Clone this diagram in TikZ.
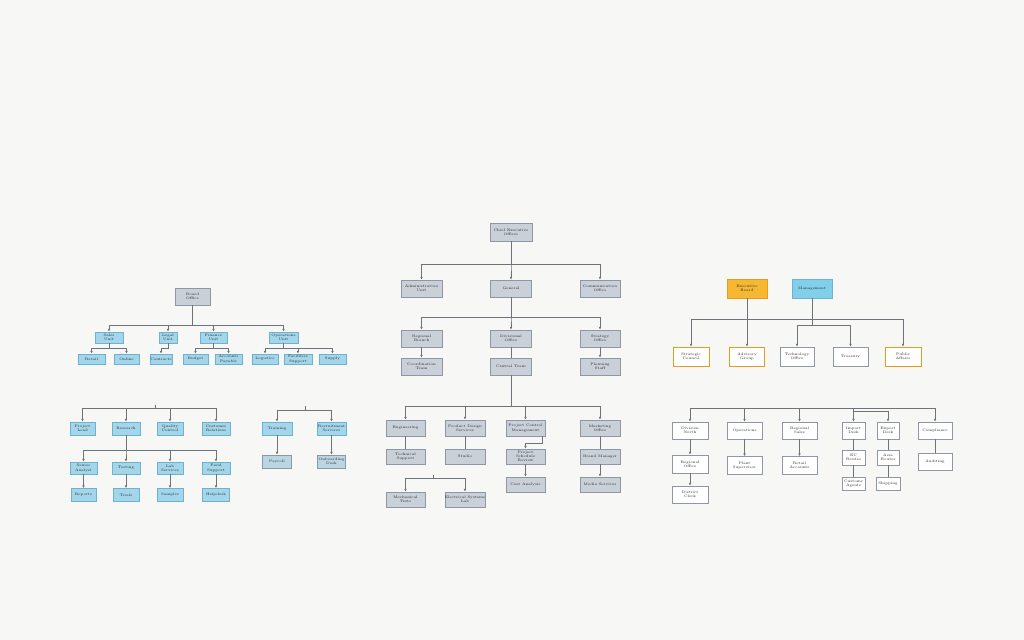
\documentclass[tikz,border=0pt]{standalone}
\usepackage{amsmath}
\usepackage{amssymb}
\usetikzlibrary{arrows.meta,shadows}
\definecolor{paper}{HTML}{F7F7F5}
\definecolor{bluebox}{HTML}{A3D6EA}
\definecolor{blueline}{HTML}{6DB2CF}
\definecolor{paleblue}{HTML}{BBD6E3}
\definecolor{greybox}{HTML}{C9D0D8}
\definecolor{greyline}{HTML}{8E97A2}
\definecolor{orangebox}{HTML}{F6B733}
\definecolor{orangeline}{HTML}{E39E1C}
\definecolor{skybox}{HTML}{82CFEA}
\definecolor{wireline}{HTML}{6E7379}

\begin{document}
\begin{tikzpicture}[x=0.25mm,y=-0.25mm,
    box/.style={draw, line width=0.4pt, inner sep=0pt, align=center, text=black!85,
        font=\fontsize{2.6}{3}\selectfont,
        drop shadow={opacity=0.12,shadow xshift=0.4pt,shadow yshift=-0.4pt}},
    bw/.style={minimum width=#1*0.25mm},
    bh/.style={minimum height=#1*0.25mm},
    bluen/.style={box, fill=bluebox, draw=blueline},
    paleblue/.style={box, fill=paleblue, draw=greyline},
    greyn/.style={box, fill=greybox, draw=greyline},
    orangen/.style={box, fill=orangebox, draw=orangeline},
    skyn/.style={box, fill=skybox, draw=blueline},
    whiteo/.style={box, fill=white, draw=orangeline},
    whiten/.style={box, fill=white, draw=greyline},
    link/.style={draw=wireline, line width=0.5pt},
    arr/.style={link, -{Latex[length=2pt,width=1.8pt]}}]

    \fill [paper] (0,0) rectangle (1024,640);
    \useasboundingbox (0,0) rectangle (1024,640);

    % left, upper
    \node [greyn, bw=35, bh=17] (ar) at (192.5,296.5) {Board\\Office};
    \node [bluen, bw=28, bh=11] (a1) at (109,337.5) {Sales\\Unit};
    \node [bluen, bw=18, bh=11] (a2) at (168,337.5) {Legal\\Unit};
    \node [bluen, bw=27, bh=11] (a3) at (213.5,337.5) {Finance\\Unit};
    \node [bluen, bw=29, bh=11] (a4) at (283.5,337.5) {Operations\\Unit};
    \node [bluen, bw=27, bh=10] (a11) at (91.5,359) {Retail};
    \node [bluen, bw=25, bh=10] (a12) at (126.5,359) {Online};
    \node [bluen, bw=22, bh=10] (a21) at (161,359) {Contracts};
    \node [bluen, bw=25, bh=10] (a31) at (195.5,359) {Budget};
    \node [bluen, bw=27, bh=10] (a32) at (228.5,359) {Accounts\\Payable};
    \node [bluen, bw=26, bh=10] (a41) at (265,359) {Logistics};
    \node [bluen, bw=28, bh=10] (a42) at (298,359) {Facilities\\Support};
    \node [bluen, bw=27, bh=10] (a43) at (332.5,359) {Supply};
    \foreach \c in {a1,a2,a3,a4}
        \draw [arr] (ar.south) -- ++(0,20) -| (\c.north);
    \foreach \p/\c in {a1/a11,a1/a12,a2/a21,a3/a31,a3/a32,a4/a41,a4/a42,a4/a43}
        \draw [arr] (\p.south) -- ++(0,5) -| (\c.north);

    % left, lower
    \coordinate (bt) at (155,405);
    \node [bluen, bw=25, bh=13] (b1) at (82.5,428.5) {Project\\Lead};
    \node [bluen, bw=28, bh=13] (b2) at (126,428.5) {Research};
    \node [bluen, bw=26, bh=13] (b3) at (170,428.5) {Quality\\Control};
    \node [bluen, bw=28, bh=13] (b4) at (216,428.5) {Customer\\Relations};
    \node [bluen, bw=27, bh=12] (b21) at (83.5,468) {Senior\\Analyst};
    \node [bluen, bw=28, bh=12] (b22) at (126,468) {Testing};
    \node [bluen, bw=26, bh=12] (b23) at (170,468) {Lab\\Services};
    \node [bluen, bw=28, bh=12] (b24) at (216,468) {Field\\Support};
    \node [bluen, bw=25, bh=13] (b31) at (83.5,495) {Reports};
    \node [bluen, bw=26, bh=13] (b32) at (126,495) {Trials};
    \node [bluen, bw=26, bh=13] (b33) at (170,495) {Samples};
    \node [bluen, bw=27, bh=13] (b34) at (216,495) {Helpdesk};
    \foreach \c in {b1,b2,b3,b4}
        \draw [arr] (bt) -- ++(0,3) -| (\c.north);
    \foreach \c in {b21,b22,b23,b24}
        \draw [arr] (b2.south) -- ++(0,15) -| (\c.north);
    \draw [arr] (b21) -- (b31);
    \draw [arr] (b22) -- (b32);
    \draw [arr] (b23) -- (b33);
    \draw [arr] (b24) -- (b34);

    \coordinate (ct) at (305,406);
    \node [bluen, bw=30, bh=13] (c1) at (277,428.5) {Training};
    \node [bluen, bw=29, bh=13] (c2) at (331.5,428.5) {Recruitment\\Services};
    \node [paleblue, bw=29, bh=13] (c11) at (277,461.5) {Payroll};
    \node [paleblue, bw=28, bh=13] (c21) at (331.5,461.5) {Onboarding\\Desk};
    \foreach \c in {c1,c2}
        \draw [arr] (ct) -- ++(0,4) -| (\c.north);
    \draw [arr] (c1) -- (c11);
    \draw [arr] (c2) -- (c21);

    % middle
    \node [greyn, bw=42, bh=18] (d0) at (511,232) {Chief Executive\\Officer};
    \node [greyn, bw=41, bh=17] (d1) at (421.5,288.5) {Administration\\Unit};
    \node [greyn, bw=41, bh=17] (d2) at (511,288.5) {General};
    \node [greyn, bw=40, bh=17] (d3) at (600,288.5) {Communication\\Office};
    \node [greyn, bw=41, bh=17] (d21) at (421.5,338.5) {Regional\\Branch};
    \node [greyn, bw=41, bh=17] (d22) at (511,338.5) {Divisional\\Office};
    \node [greyn, bw=40, bh=17] (d23) at (600,338.5) {Strategy\\Office};
    \node [greyn, bw=41, bh=17] (d31) at (421.5,366.5) {Coordination\\Team};
    \node [greyn, bw=41, bh=17] (d32) at (511,366.5) {Central Team};
    \node [greyn, bw=40, bh=17] (d33) at (600,366.5) {Planning\\Staff};
    \foreach \c in {d1,d2,d3}
        \draw [arr] (d0.south) -- ++(0,23) -| (\c.north);
    \foreach \c in {d21,d22,d23}
        \draw [arr] (d2.south) -- ++(0,20) -| (\c.north);
    \draw [arr] (d21) -- (d31);
    \draw [link] (d22) -- (d32);
    \draw [arr] (d23) -- (d33);

    \node [greyn, bw=39, bh=16] (e1) at (405.5,428) {Engineering};
    \node [greyn, bw=40, bh=16] (e2) at (465,428) {Product Design\\Services};
    \node [greyn, bw=39, bh=16] (e3) at (525.5,428) {Project Control\\Management};
    \node [greyn, bw=40, bh=16] (e4) at (600,428) {Marketing\\Office};
    \node [greyn, bw=39, bh=15] (e11) at (405.5,456.5) {Technical\\Support};
    \node [greyn, bw=40, bh=15] (e12) at (465,456.5) {Studio};
    \node [greyn, bw=39, bh=15] (e13) at (525.5,456.5) {Project\\Schedule\\Review};
    \node [greyn, bw=40, bh=15] (e14) at (600,456.5) {Brand Manager};
    \node [greyn, bw=39, bh=15] (e23) at (525.5,484.5) {Cost Analysis};
    \node [greyn, bw=40, bh=15] (e24) at (600,484.5) {Media Services};
    \foreach \c in {e1,e2,e3,e4}
        \draw [arr] (d32.south) -- ++(0,31) -| (\c.north);
    \draw [link] (e1) -- (e11);
    \draw [link] (e2) -- (e12);
    \draw [arr] ([xshift=-0.75mm]e3.south east) -- ++(0,7) -| (e13.north);
    \draw [link] (e4) -- (e14);
    \draw [arr] (e13) -- (e23);
    \draw [arr] (e14) -- (e24);

    \coordinate (ft) at (433,475);
    \node [greyn, bw=39, bh=15] (f1) at (405.5,499.5) {Mechanical\\Tests};
    \node [greyn, bw=40, bh=15] (f2) at (465,499.5) {Electrical Systems\\Lab};
    \foreach \c in {f1,f2}
        \draw [arr] (ft) -- ++(0,3) -| (\c.north);

    % right
    \node [orangen, bw=40, bh=19] (g0) at (747,288.5) {Executive\\Board};
    \node [skyn, bw=40, bh=19] (g9) at (812,288.5) {Management};
    \node [whiteo, bw=36, bh=19] (h1) at (691,356.5) {Strategic\\Council};
    \node [whiteo, bw=35, bh=19] (h2) at (747,356.5) {Advisory\\Group};
    \node [whiten, bw=34, bh=19] (h3) at (797,356.5) {Technology\\Office};
    \node [whiten, bw=35, bh=19] (h4) at (850.5,356.5) {Treasury};
    \node [whiteo, bw=36, bh=19] (h5) at (903,356.5) {Public\\Affairs};
    \draw [arr] (g0.south) -- (h2.north);
    \foreach \c in {h1,h5}
        \draw [arr] (g9.south) -- ++(0,21) -| (\c.north);
    \foreach \c in {h3,h4}
        \draw [arr] (g9.south) -- ++(0,27) -| (\c.north);

    \coordinate (ib) at (812,408);
    \node [whiten, bw=36, bh=17] (i1) at (690,430.5) {Division\\North};
    \node [whiten, bw=35, bh=17] (i2) at (744.5,430.5) {Operations};
    \node [whiten, bw=35, bh=17] (i3) at (799.5,430.5) {Regional\\Sales};
    \node [whiten, bw=23, bh=17] (i4) at (853.5,430.5) {Import\\Desk};
    \node [whiten, bw=22, bh=17] (i5) at (888,430.5) {Export\\Desk};
    \node [whiten, bw=34, bh=17] (i6) at (935,430.5) {Compliance};
    \node [whiten, bw=36, bh=18] (i11) at (690,464) {Regional\\Office};
    \node [whiten, bw=35, bh=18] (i21) at (744.5,465.5) {Plant\\Supervisor};
    \node [whiten, bw=35, bh=18] (i31) at (799.5,465.5) {Retail\\Accounts};
    \node [whiten, bw=23, bh=15] (i41) at (853.5,457.5) {EU\\Routes};
    \node [whiten, bw=22, bh=15] (i51) at (888,457.5) {Asia\\Routes};
    \node [whiten, bw=34, bh=17] (i61) at (935,461.5) {Auditing};
    \node [whiten, bw=36, bh=17] (i12) at (690,494.5) {District\\Clerk};
    \node [whiten, bw=23, bh=13] (i42) at (853.5,483.5) {Customs\\Agents};
    \node [whiten, bw=24, bh=13] (i52) at (888,483.5) {Shipping};
    \foreach \c in {i1,i2,i3,i4,i6}
        \draw [arr] (ib) -| (\c.north);
    \draw [arr] (i4.north) ++(0,-10) -| (i5.north);
    \draw [arr] (i1) -- (i11);
    \draw [arr] (i2) -- (i21);
    \draw [arr] (i3) -- (i31);
    \draw [link] (i4) -- (i41);
    \draw [link] (i5) -- (i51);
    \draw [link] (i6) -- (i61);
    \draw [arr] (i11) -- (i12);
    \draw [link] (i41) -- (i42);
    \draw [link] (i51) -- (i52);
\end{tikzpicture}
\end{document}
